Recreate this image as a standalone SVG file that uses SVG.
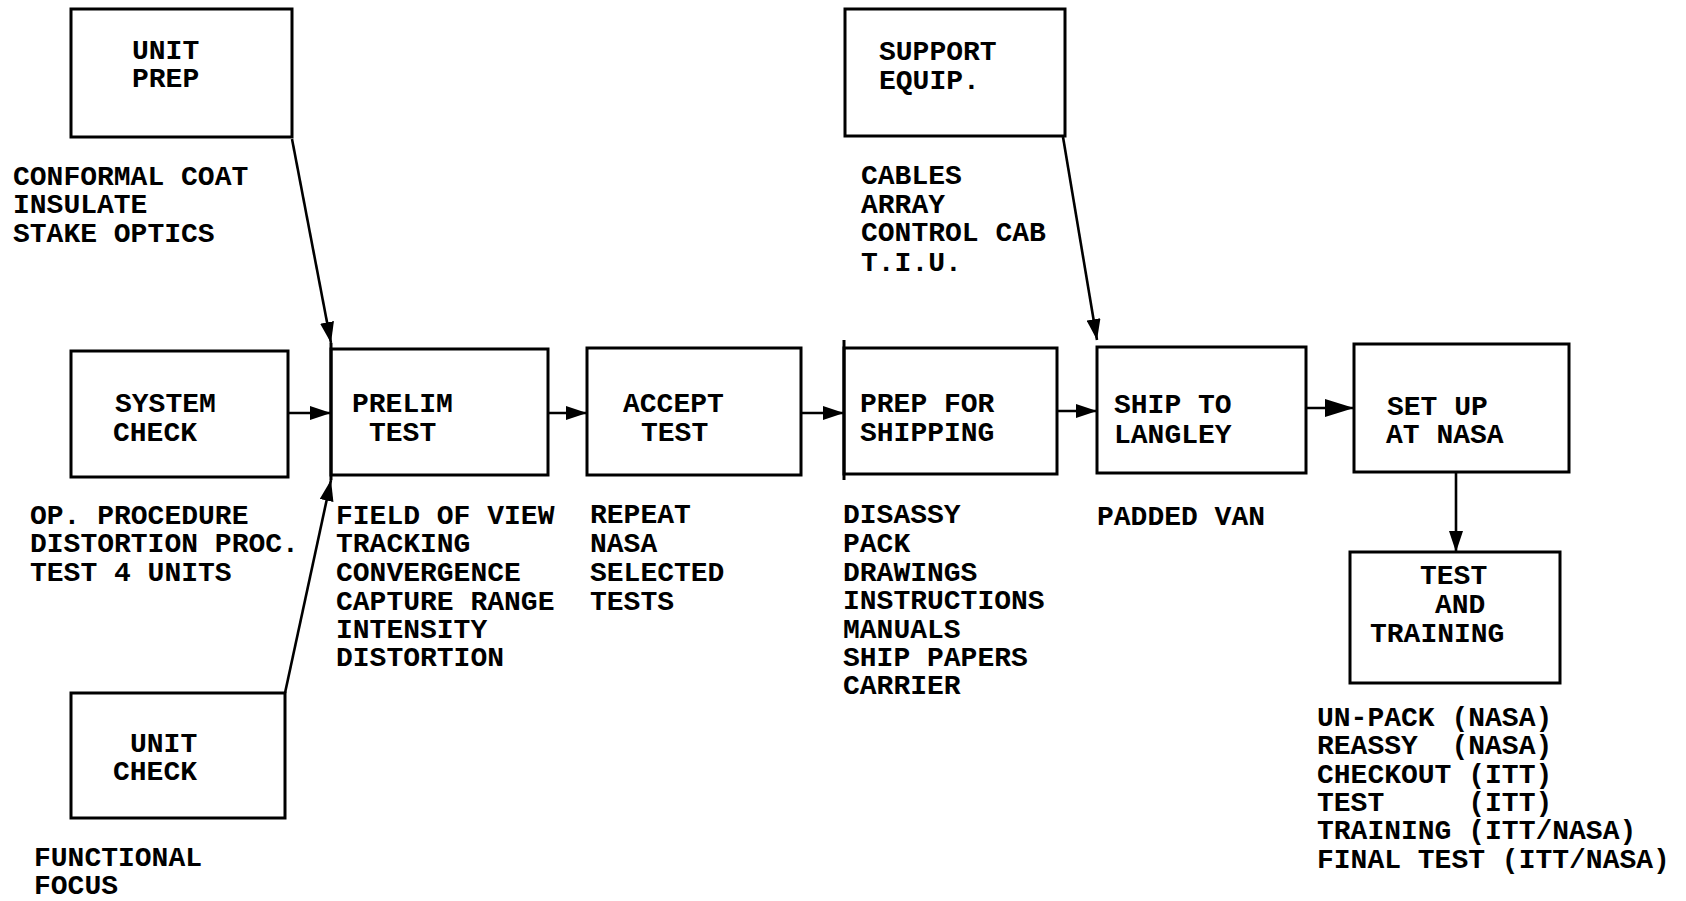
<svg xmlns="http://www.w3.org/2000/svg" width="1686" height="901" viewBox="0 0 1686 901">
<defs>
<style>
.box{fill:none;stroke:#000;stroke-width:3}
.edge{stroke:#000;stroke-width:3;fill:none}
.ln{stroke:#000;stroke-width:2.6;fill:none}
text{font-family:"Liberation Mono","Courier New",monospace;font-weight:bold;font-size:28px;fill:#000}
</style>
<marker id="ah" markerUnits="userSpaceOnUse" markerWidth="22" markerHeight="14" refX="21" refY="7" orient="auto">
<path d="M0,0 L21,7 L0,14 z" fill="#000"/>
</marker>
<marker id="ahb" markerUnits="userSpaceOnUse" markerWidth="30" markerHeight="18" refX="29" refY="9" orient="auto">
<path d="M0,0 L29,9 L0,18 z" fill="#000"/>
</marker>
</defs>
<rect width="1686" height="901" fill="#fff"/>

<g id="unit-prep">
<rect class="box" x="71" y="9" width="221" height="128"/>
<text x="132" y="59">UNIT</text>
<text x="132" y="87">PREP</text>
<text x="13" y="185">CONFORMAL COAT</text>
<text x="13" y="213">INSULATE</text>
<text x="13" y="242">STAKE OPTICS</text>
</g>

<g id="support-equip">
<rect class="box" x="845" y="9" width="220" height="127"/>
<text x="879" y="60">SUPPORT</text>
<text x="879" y="89">EQUIP.</text>
<text x="861" y="184">CABLES</text>
<text x="861" y="213">ARRAY</text>
<text x="861" y="241">CONTROL CAB</text>
<text x="861" y="271">T.I.U.</text>
</g>

<g id="system-check">
<rect class="box" x="71" y="351" width="217" height="126"/>
<text x="115" y="412">SYSTEM</text>
<text x="113" y="441">CHECK</text>
<text x="30" y="524">OP. PROCEDURE</text>
<text x="30" y="552">DISTORTION PROC.</text>
<text x="30" y="581">TEST 4 UNITS</text>
</g>

<g id="prelim-test">
<rect class="box" x="331" y="349" width="217" height="126"/>
<line class="edge" x1="331" y1="343" x2="331" y2="480"/>
<text x="352" y="412">PRELIM</text>
<text x="369" y="441">TEST</text>
<text x="336" y="524">FIELD OF VIEW</text>
<text x="336" y="552">TRACKING</text>
<text x="336" y="581">CONVERGENCE</text>
<text x="336" y="610">CAPTURE RANGE</text>
<text x="336" y="638">INTENSITY</text>
<text x="336" y="666">DISTORTION</text>
</g>

<g id="accept-test">
<rect class="box" x="587" y="348" width="214" height="127"/>
<text x="623" y="412">ACCEPT</text>
<text x="641" y="441">TEST</text>
<text x="590" y="523">REPEAT</text>
<text x="590" y="552">NASA</text>
<text x="590" y="581">SELECTED</text>
<text x="590" y="610">TESTS</text>
</g>

<g id="prep-for-shipping">
<rect class="box" x="844" y="348" width="213" height="126"/>
<line class="edge" x1="844" y1="340" x2="844" y2="480"/>
<text x="860" y="412">PREP FOR</text>
<text x="860" y="441">SHIPPING</text>
<text x="843" y="523">DISASSY</text>
<text x="843" y="552">PACK</text>
<text x="843" y="581">DRAWINGS</text>
<text x="843" y="609">INSTRUCTIONS</text>
<text x="843" y="638">MANUALS</text>
<text x="843" y="666">SHIP PAPERS</text>
<text x="843" y="694">CARRIER</text>
</g>

<g id="ship-to-langley">
<rect class="box" x="1097" y="347" width="209" height="126"/>
<text x="1114" y="413">SHIP TO</text>
<text x="1114" y="443">LANGLEY</text>
<text x="1097" y="525">PADDED VAN</text>
</g>

<g id="set-up-at-nasa">
<rect class="box" x="1354" y="344" width="215" height="128"/>
<text x="1387" y="415">SET UP</text>
<text x="1386" y="443">AT NASA</text>
</g>

<g id="test-and-training">
<rect class="box" x="1350" y="552" width="210" height="131"/>
<text x="1420" y="584">TEST</text>
<text x="1435" y="613">AND</text>
<text x="1370" y="642">TRAINING</text>
<text x="1317" y="726" xml:space="preserve">UN-PACK (NASA)</text>
<text x="1317" y="754" xml:space="preserve">REASSY  (NASA)</text>
<text x="1317" y="783" xml:space="preserve">CHECKOUT (ITT)</text>
<text x="1317" y="811" xml:space="preserve">TEST     (ITT)</text>
<text x="1317" y="839" xml:space="preserve">TRAINING (ITT/NASA)</text>
<text x="1317" y="868" xml:space="preserve">FINAL TEST (ITT/NASA)</text>
</g>

<g id="unit-check">
<rect class="box" x="71" y="693" width="214" height="125"/>
<text x="130" y="752">UNIT</text>
<text x="113" y="780">CHECK</text>
<text x="34" y="866">FUNCTIONAL</text>
<text x="34" y="894">FOCUS</text>
</g>

<g id="connectors">
<line class="ln" x1="292" y1="139" x2="331" y2="343" marker-end="url(#ah)"/>
<line class="ln" x1="285" y1="693" x2="331" y2="480" marker-end="url(#ah)"/>
<line class="ln" x1="1063" y1="137" x2="1097" y2="340" marker-end="url(#ah)"/>
<line class="ln" x1="288" y1="413" x2="331" y2="413" marker-end="url(#ah)"/>
<line class="ln" x1="548" y1="413" x2="587" y2="413" marker-end="url(#ah)"/>
<line class="ln" x1="801" y1="413" x2="844" y2="413" marker-end="url(#ah)"/>
<line class="ln" x1="1057" y1="411" x2="1097" y2="411" marker-end="url(#ah)"/>
<line class="ln" x1="1306" y1="408" x2="1354" y2="408" marker-end="url(#ahb)"/>
<line class="ln" x1="1456" y1="472" x2="1456" y2="552" marker-end="url(#ah)"/>
</g>
</svg>
